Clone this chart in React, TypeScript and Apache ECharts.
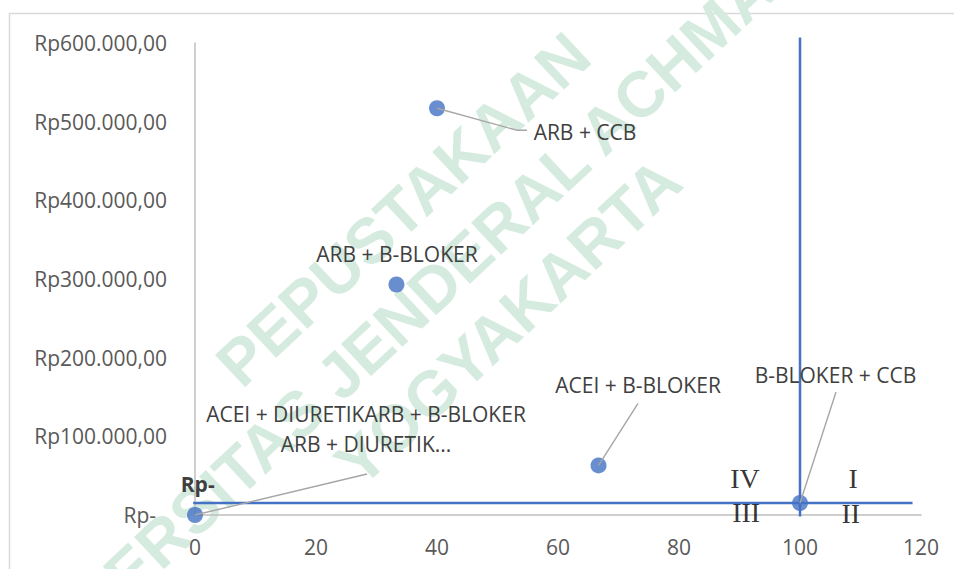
import React, { useEffect, useRef } from "react";
import * as echarts from "echarts";

// ---- data ----
const pointNames = [
  "ACEI + DIURETIKARB + B-BLOKER\nARB + DIURETIK...",
  "ARB + CCB",
  "ARB + B-BLOKER",
  "ACEI + B-BLOKER",
  "B-BLOKER + CCB",
];
const effectiveness = [0, 40, 33.3, 66.7, 100];
const costs = [0, 517000, 293000, 63000, 15300];

const xTickValues = [0, 20, 40, 60, 80, 100, 120];
const yTickValues = [0, 100000, 200000, 300000, 400000, 500000, 600000];

// quadrant reference lines (through B-BLOKER + CCB)
const hLineX = [-0.3, 118.6];
const hLineY = [15300, 15300];
const vLineX = [100, 100];
const vLineY = [-2000, 607000];
const refLineLabel = "Rp-";

// quadrant annotations
const quadrantNames = ["IV", "III", "I", "II"];
const quadrantX = [90.9, 91.1, 108.8, 108.4];
const quadrantY = [47000, 3800, 47000, 1300];

const watermarkLines = ["PEPUSTAKAAN", "UNIVERSITAS JENDERAL ACHMAD YANI", "YOGYAKARTA"];

// ---- styles (pixel offsets of data labels / leader lines) ----
const labelStyles = [
  { dx: 171, dy: -86.5, leader: [[172, -41]] },
  { dx: 148, dy: 24, leader: [[80, 22], [90, 22]] },
  { dx: 0.5, dy: -30.5, leader: [] as number[][] },
  { dx: 39.5, dy: -80, leader: [[39.5, -62]] },
  { dx: 35.5, dy: -128, leader: [[36, -111]] },
];

const FONT = '"Open Sans", "Noto Sans", sans-serif';
const BLUE = "#4472c4";

function fmtRp(v: number): string {
  if (v === 0) return "{z|Rp-}";
  return "Rp" + String(v).replace(/\B(?=(\d{3})+(?!\d))/g, ".") + ",00";
}

export default function App() {
  const ref = useRef<HTMLDivElement>(null);
  useEffect(() => {
    document.body.style.margin = "0";
    if (!ref.current) return;
    const chart = echarts.init(ref.current, null, { renderer: "svg" });
    const deg = (43 * Math.PI) / 180;
    const option: any = {
      animation: false,
      backgroundColor: "#ffffff",
      grid: { left: 195, right: 33, top: 43, bottom: 54 },
      graphic: [
        {
          type: "rect",
          z: 0,
          silent: true,
          shape: { x: 9.5, y: 13.5, width: 980, height: 600 },
          style: { fill: "none", stroke: "#d9d9d9", lineWidth: 1.5 },
        },
        {
          type: "group",
          z: 0,
          silent: true,
          x: 460,
          y: 263,
          rotation: deg,
          children: [
            { off: [-5, -78], t: watermarkLines[0] },
            { off: [0, 0], t: watermarkLines[1] },
            { off: [-5, 76], t: watermarkLines[2] },
          ].map((w) => ({
            type: "text",
            x: w.off[0],
            y: w.off[1],
            style: {
              text: w.t,
              fill: "#d5ebdf",
              font: 'bold 64px "Liberation Sans", Arial, sans-serif',
              align: "center",
              verticalAlign: "middle",
              textAlign: "center",
              textVerticalAlign: "middle",
            },
          })),
        },
      ],
      xAxis: {
        type: "value",
        min: 0,
        max: 120,
        interval: 20,
        axisLine: { show: true, onZero: false, lineStyle: { color: "#bfbfbf", width: 1.5 } },
        axisTick: { show: false },
        splitLine: { show: false },
        axisLabel: {
          color: "#595959",
          fontSize: 21,
          fontFamily: FONT,
          margin: 21,
          formatter: (v: number) => (xTickValues.includes(v) ? String(v) : ""),
        },
      },
      yAxis: {
        type: "value",
        min: 0,
        max: 600000,
        interval: 100000,
        axisLine: { show: true, lineStyle: { color: "#bfbfbf", width: 1.5 } },
        axisTick: { show: false },
        splitLine: { show: false },
        axisLabel: {
          color: "#595959",
          fontSize: 21,
          fontFamily: FONT,
          margin: 28,
          formatter: (v: number) => (yTickValues.includes(v) ? fmtRp(v) : ""),
          rich: {
            z: { color: "#595959", fontSize: 21, fontFamily: FONT, padding: [0, 11, 0, 0] },
          },
        },
      },
      series: [
        {
          type: "line",
          name: "h",
          z: 3,
          clip: false,
          showSymbol: true,
          symbol: "circle",
          symbolSize: 0,
          lineStyle: { color: BLUE, width: 2.5 },
          itemStyle: { color: "transparent" },
          data: hLineX.map((x, i) => ({
            value: [x, hLineY[i]],
            label:
              i === 0
                ? {
                    show: true,
                    position: "top",
                    distance: 8,
                    offset: [4.5, 0],
                    formatter: () => refLineLabel,
                    color: "#404040",
                    fontWeight: "bold",
                    fontSize: 21,
                    fontFamily: FONT,
                    lineHeight: 22,
                  }
                : { show: false },
          })),
        },
        {
          type: "line",
          name: "v",
          z: 3,
          clip: false,
          showSymbol: false,
          lineStyle: { color: BLUE, width: 2.5 },
          data: vLineX.map((x, i) => [x, vLineY[i]]),
        },
        {
          type: "scatter",
          name: "points",
          z: 4,
          symbolSize: 16,
          itemStyle: { color: BLUE },
          data: effectiveness.map((x, i) => [x, costs[i]]),
        },
        {
          type: "custom",
          name: "labels",
          z: 5,
          data: effectiveness.map((x, i) => [x, costs[i]]),
          renderItem: (params: any, api: any) => {
            const i = params.dataIndex;
            const pt = api.coord([api.value(0), api.value(1)]);
            const st = labelStyles[i];
            const children: any[] = [];
            if (st.leader.length) {
              children.push({
                type: "polyline",
                shape: {
                  points: [pt, ...st.leader.map((o) => [pt[0] + o[0], pt[1] + o[1]])],
                },
                style: { stroke: "#a6a6a6", lineWidth: 1.4, fill: null },
              });
            }
            children.push({
              type: "text",
              x: pt[0] + st.dx,
              y: pt[1] + st.dy,
              style: {
                text: pointNames[i],
                fill: "#404040",
                font: `21px ${FONT}`,
                fontSize: 21,
                fontFamily: FONT,
                lineHeight: 30,
                align: "center",
                verticalAlign: "middle",
                textAlign: "center",
                textVerticalAlign: "middle",
              },
            });
            return { type: "group", children };
          },
        },
        {
          type: "scatter",
          name: "quadrants",
          z: 5,
          symbolSize: 1,
          itemStyle: { color: "transparent" },
          label: {
            show: true,
            position: "inside",
            formatter: (p: any) => quadrantNames[p.dataIndex],
            color: "#000000",
            fontSize: 28,
            fontFamily: '"Liberation Serif", "DejaVu Serif", serif',
          },
          data: quadrantX.map((x, i) => [x, quadrantY[i]]),
        },
      ],
    };
    chart.setOption(option);
    return () => chart.dispose();
  }, []);
  return (
    <div
      ref={ref}
      style={{ position: "absolute", left: 0, top: 0, width: 954, height: 569 }}
    />
  );
}
